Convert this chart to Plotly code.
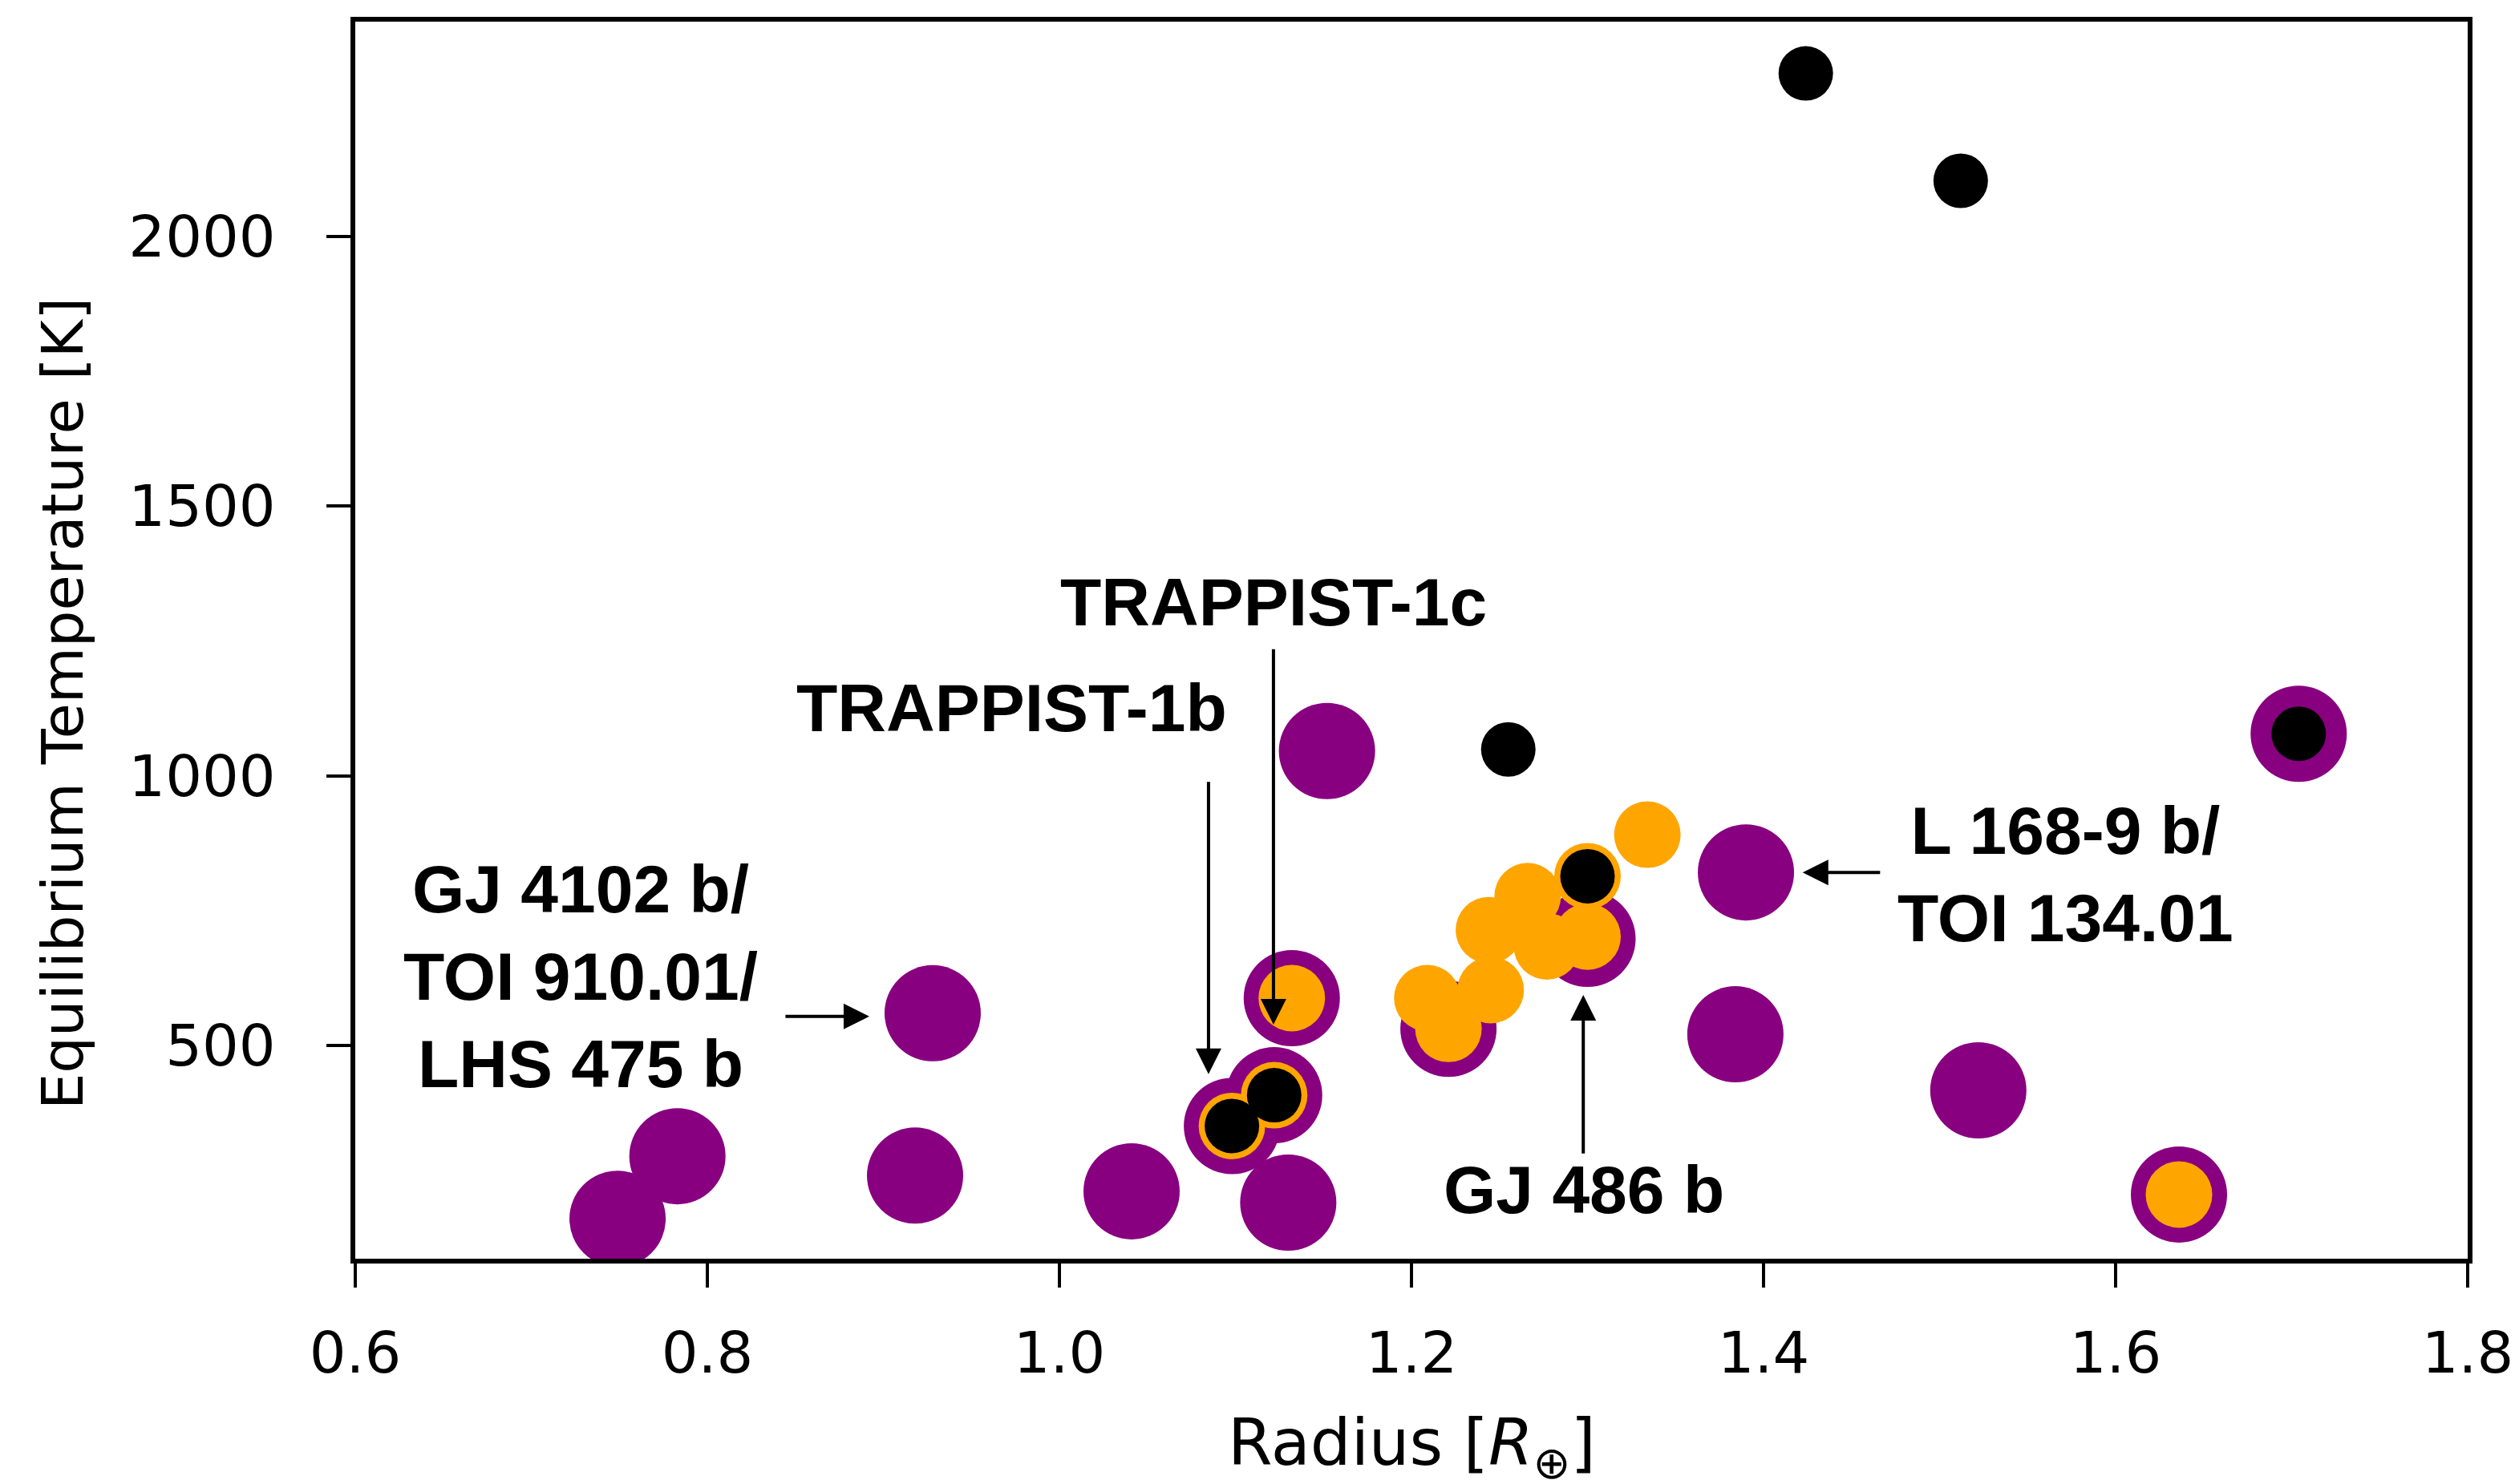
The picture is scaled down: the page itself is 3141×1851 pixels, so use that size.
import plotly.graph_objects as go

# planet radius [R_earth] and equilibrium temperature [K]
purple_r = [0.749, 0.783, 0.918, 0.928, 1.041, 1.098, 1.122, 1.130, 1.132,
            1.152, 1.221, 1.300, 1.384, 1.390, 1.522, 1.636, 1.704]
purple_t = [179, 295, 259, 560, 230, 351, 408, 209, 588,
            1046, 531, 698, 521, 821, 417, 224, 1078]

orange_r = [1.098, 1.122, 1.132, 1.209, 1.221, 1.244, 1.245, 1.266, 1.277,
            1.300, 1.300, 1.334, 1.636]
orange_t = [351, 408, 588, 588, 531, 714, 603, 777, 684,
            702, 814, 891, 224]

black_r = [1.098, 1.122, 1.255, 1.300, 1.424, 1.512, 1.704]
black_t = [351, 408, 1049, 814, 2302, 2103, 1078]

x_ticks = [0.6, 0.8, 1.0, 1.2, 1.4, 1.6, 1.8]
y_ticks = [500, 1000, 1500, 2000]

# labels: text, label position, arrow tail, arrow tip (data coords)
labels = [
    ("TRAPPIST-1c", (1.1216, 1322), (1.1216, 1237), (1.1216, 539)),
    ("TRAPPIST-1b", (0.973, 1126), (1.0847, 991), (1.0847, 447)),
    ("GJ 486 b", (1.298, 233), (1.2976, 298), (1.2976, 594)),
    ("L 168-9 b/<br>TOI 134.01", (1.5716, 817), (1.4669, 821), (1.4222, 821)),
    ("GJ 4102 b/<br>TOI 910.01/<br>LHS 475 b", (0.728, 628), (0.8437, 554), (0.892, 554)),
]

PURPLE = "#880080"
ORANGE = "#ffa500"

fig = go.Figure()
fig.add_trace(go.Scatter(x=purple_r, y=purple_t, mode="markers",
                         marker=dict(size=120, color=PURPLE, line=dict(width=0))))
fig.add_trace(go.Scatter(x=orange_r, y=orange_t, mode="markers",
                         marker=dict(size=83, color=ORANGE, line=dict(width=0))))
fig.add_trace(go.Scatter(x=black_r, y=black_t, mode="markers",
                         marker=dict(size=68, color="black", line=dict(width=0))))

lab_font = dict(family="Liberation Sans, Arial, sans-serif", size=84, color="black")
for text, (lx, ly), (tx, ty), (hx, hy) in labels:
    fig.add_annotation(x=hx, y=hy, ax=tx, ay=ty, xref="x", yref="y",
                       axref="x", ayref="y", text="", showarrow=True,
                       arrowhead=2, arrowsize=1.6, arrowwidth=4, arrowcolor="black")
    fig.add_annotation(x=lx, y=ly, xref="x", yref="y", text="<b>" + text + "</b>",
                       showarrow=False, xanchor="center", yanchor="middle",
                       font=lab_font, align="center")

# axis titles as annotations so they can sit where the original has them
fig.add_annotation(x=-0.1386, y=0.449, xref="paper", yref="paper",
                   text="Equilibrium Temperature [K]", textangle=-90, showarrow=False,
                   xanchor="center", yanchor="middle",
                   font=dict(family="DejaVu Sans", size=72, color="black"))
fig.add_annotation(x=0.5, y=-0.152, xref="paper", yref="paper",
                   text="Radius [<i>R</i><sub>⊕</sub>]", showarrow=False,
                   xanchor="center", yanchor="middle",
                   font=dict(family="DejaVu Sans", size=80, color="black"))

axis_common = dict(showline=True, linewidth=6, linecolor="black", mirror=True,
                   ticks="outside", ticklen=30, tickwidth=4, tickcolor="black",
                   showgrid=False, zeroline=False,
                   tickfont=dict(family="DejaVu Sans", size=72, color="black"))

fig.update_layout(
    width=3141, height=1851,
    paper_bgcolor="white", plot_bgcolor="white",
    showlegend=False,
    margin=dict(l=435, r=72, t=19, b=289),
    xaxis=dict(range=[0.6, 1.8], tickvals=x_ticks, ticktext=[f"{v:.1f}" for v in x_ticks],
               ticklabelstandoff=20, **axis_common),
    yaxis=dict(range=[105, 2398], tickvals=y_ticks, ticktext=[str(v) for v in y_ticks],
               ticklabelstandoff=49, **axis_common),
)

fig.write_html("out.html")
